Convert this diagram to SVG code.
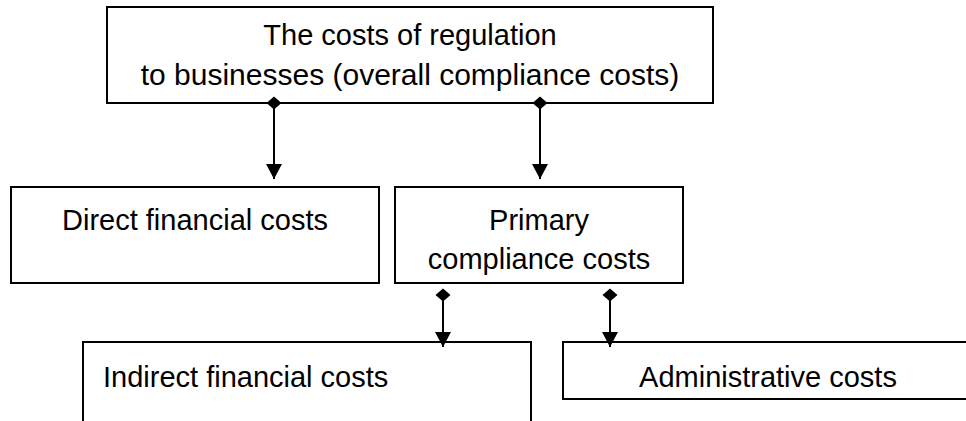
<svg xmlns="http://www.w3.org/2000/svg" width="966" height="421" viewBox="0 0 966 421">
<style>
.box{fill:#fff;stroke:#000;stroke-width:2}
.t{font-family:"Liberation Sans",Arial,sans-serif;font-size:29px;fill:#000}
.c{stroke:#000;stroke-width:2;fill:none;marker-start:url(#dia);marker-end:url(#arr)}
</style>
<defs>
<marker id="dia" markerUnits="userSpaceOnUse" markerWidth="14" markerHeight="16" refX="7" refY="8" orient="auto" viewBox="0 0 14 16"><path d="M7 0.5 L13.5 8 L7 15.5 L0.5 8 Z" fill="#000"/></marker>
<marker id="arr" markerUnits="userSpaceOnUse" markerWidth="16" markerHeight="16" refX="15" refY="8" orient="auto" viewBox="0 0 16 16"><path d="M0 0 L15 8 L0 16 Z" fill="#000"/></marker>
</defs>
<g id="n-top"><rect class="box" x="107" y="7" width="606" height="96"/><text class="t" x="410" y="45" text-anchor="middle">The costs of regulation</text><text class="t" x="410" y="85" text-anchor="middle" style="font-size:30px">to businesses (overall compliance costs)</text></g>
<g id="n-direct"><rect class="box" x="11" y="187" width="368" height="96"/><text class="t" x="195" y="230" text-anchor="middle">Direct financial costs</text></g>
<g id="n-primary"><rect class="box" x="395" y="187" width="288" height="96"/><text class="t" x="539" y="230" text-anchor="middle">Primary</text><text class="t" x="539" y="269" text-anchor="middle">compliance costs</text></g>
<g id="n-indirect"><rect class="box" x="83" y="342" width="448" height="100"/><text class="t" x="103" y="387">Indirect financial costs</text></g>
<g id="n-admin"><rect class="box" x="563" y="342" width="420" height="57"/><text class="t" x="768" y="387" text-anchor="middle">Administrative costs</text></g>
<g id="connectors">
<path class="c" d="M274 103 L274 179"/>
<path class="c" d="M540 103 L540 179"/>
<path class="c" d="M443 295 L443 347"/>
<path class="c" d="M610 295 L610 347"/>
</g>
</svg>
